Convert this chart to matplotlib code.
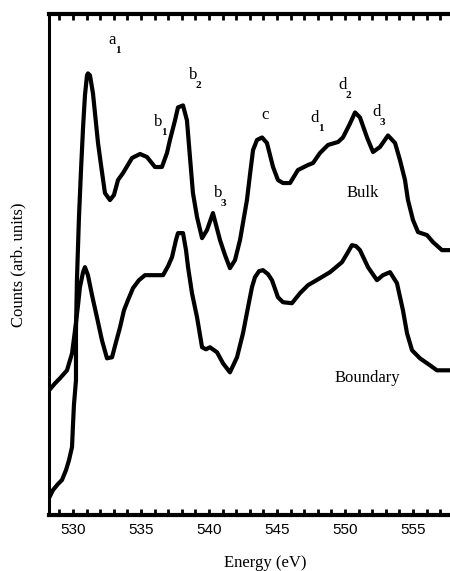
import matplotlib
matplotlib.use("Agg")
import matplotlib.pyplot as plt
from matplotlib.ticker import MultipleLocator, NullLocator

# O K-edge spectra, counts in arbitrary units
bulk_energy = [528.24, 528.53, 528.90, 529.19, 529.49, 529.71, 529.93, 530.0, 530.07, 530.22,
               530.22, 530.29, 530.44, 530.59, 530.74, 530.88, 531.03,
               531.10, 531.25, 531.47, 531.84, 532.06, 532.35, 532.72, 533.01, 533.31, 533.68,
               534.34, 534.93, 535.44, 536.03, 536.54, 536.91, 537.13, 537.50, 537.72, 538.09,
               538.38, 538.60, 538.82, 539.12, 539.49, 539.85, 540.29, 540.81, 541.18, 541.54,
               541.91, 542.28, 542.79, 543.01, 543.24, 543.53, 543.90, 544.26, 544.71, 545.07,
               545.44, 545.96, 546.54, 547.28, 547.65, 548.16, 548.75, 549.49, 549.85, 550.37,
               550.74, 551.10, 551.62, 552.06, 552.57, 553.16, 553.68, 554.04, 554.41, 554.63,
               555.00, 555.37, 556.03, 556.47, 557.13, 557.72]
bulk_counts = [3.4, 5.0, 6.2, 7.0, 9.0, 11.0, 13.6, 18.0, 22.0, 26.9,
               36.9, 46.9, 59.5, 68.9, 77.4, 83.8, 87.8,
               88.2, 87.8, 84.2, 74.3, 69.9, 64.3, 62.9, 63.9, 66.9, 68.3,
               71.3, 72.1, 71.5, 69.5, 69.5, 72.3, 74.9, 78.8, 81.4, 81.8,
               78.8, 71.5, 64.3, 59.5, 55.3, 56.9, 60.3, 54.9, 51.9, 49.3,
               50.9, 54.9, 62.9, 67.9, 72.9, 74.9, 75.4, 74.3, 69.5, 66.9,
               66.3, 66.3, 68.9, 69.9, 70.3, 72.3, 73.9, 74.5, 75.4, 78.2,
               80.4, 79.4, 75.4, 72.5, 73.5, 75.8, 74.3, 70.9, 66.9, 62.9,
               58.9, 56.5, 55.9, 54.5, 52.9, 52.9]

boundary_energy = [528.24, 528.68, 529.04, 529.56, 529.93, 530.15, 530.37, 530.51, 530.74,
                   530.88, 531.10, 531.40, 531.76, 532.13, 532.50, 532.87, 533.16, 533.46,
                   533.75, 534.04, 534.41, 534.85, 535.29, 535.88, 536.62, 536.99, 537.28, 537.57,
                   537.72, 538.09, 538.31, 538.46, 538.75, 539.12, 539.49, 539.78, 540.07, 540.59,
                   541.03, 541.54, 542.06, 542.50, 542.87, 543.16, 543.38, 543.68, 543.97, 544.34,
                   544.63, 545.07, 545.44, 546.10, 546.69, 547.28, 548.16, 548.90, 549.78, 550.22,
                   550.51, 550.81, 551.10, 551.69, 552.35, 552.79, 553.31, 553.82, 554.26, 554.56,
                   554.93, 555.51, 556.25, 556.76, 557.72]
boundary_counts = [24.9, 26.3, 27.3, 28.9, 32.3, 36.9, 41.9, 45.5, 48.5,
                   49.5, 47.9, 43.9, 39.5, 34.9, 31.3, 31.5, 34.5, 37.5,
                   40.9, 42.9, 45.3, 46.9, 47.9, 47.9, 47.9, 49.7, 51.5, 54.9,
                   56.3, 56.3, 52.9, 49.5, 44.3, 39.5, 33.5, 33.1, 33.5, 32.5,
                   30.3, 28.5, 31.5, 36.3, 41.5, 45.5, 47.5, 48.7, 48.9, 48.1,
                   46.9, 43.5, 42.5, 42.3, 44.3, 45.9, 47.3, 48.5, 50.5, 52.5,
                   53.9, 53.7, 52.9, 49.5, 46.9, 47.9, 48.5, 46.3, 40.9, 36.3,
                   32.9, 31.3, 29.9, 28.9, 28.9]

# peak labels: letter, subscript, (E, counts) of the letter
peak_letters = ["a", "b", "b", "c", "d", "d", "d", "b"]
peak_subs = ["1", "2", "1", "", "1", "2", "3", "3"]
peak_E = [532.87, 538.82, 536.25, 544.12, 547.79, 549.85, 552.35, 540.66]
peak_C = [94.8, 87.8, 78.4, 79.8, 79.2, 85.8, 80.4, 64.3]

serif = "Liberation Serif"
sans = "Liberation Sans"

fig = plt.figure(figsize=(4.5, 5.71), dpi=100)
ax = fig.add_axes([0.109, 0.098, 0.891, 0.877])

ax.plot(bulk_energy, bulk_counts, color="black", lw=3.0, solid_joinstyle="round")
ax.plot(boundary_energy, boundary_counts, color="black", lw=3.0, solid_joinstyle="round")

ax.set_xlim(528.24, 557.72)
ax.set_ylim(0, 100)

ax.spines["right"].set_visible(False)
ax.spines["left"].set_linewidth(2.2)
ax.spines["top"].set_linewidth(3)
ax.spines["bottom"].set_linewidth(3)

ax.xaxis.set_major_locator(MultipleLocator(5))
ax.xaxis.set_minor_locator(MultipleLocator(1))
ax.yaxis.set_major_locator(NullLocator())
ax.tick_params(axis="x", which="both", direction="in", top=True, bottom=True,
               length=4, width=2)
ax.tick_params(axis="x", which="major", labelsize=11, pad=6)
for lbl in ax.get_xticklabels():
    lbl.set_family(sans)

ax.set_xlabel("Energy (eV)", family=serif, fontsize=12, labelpad=8)
ax.xaxis.set_label_coords(0.539, -0.08)
ax.set_ylabel("Counts (arb. units)", family=serif, fontsize=12, labelpad=16)

for let, sub, e, c in zip(peak_letters, peak_subs, peak_E, peak_C):
    ax.text(e, c, let, family=serif, fontsize=12, ha="center", va="center")
    if sub:
        ax.text(e + 0.42, c - 2.0, sub, family=serif, fontsize=8, fontweight="bold",
                ha="center", va="center")

ax.text(551.32, 64.3, "Bulk", family=serif, fontsize=12, ha="center", va="center")
ax.text(551.62, 27.3, "Boundary", family=serif, fontsize=12, ha="center", va="center")

fig.savefig("out.png", dpi=100, facecolor="white")
